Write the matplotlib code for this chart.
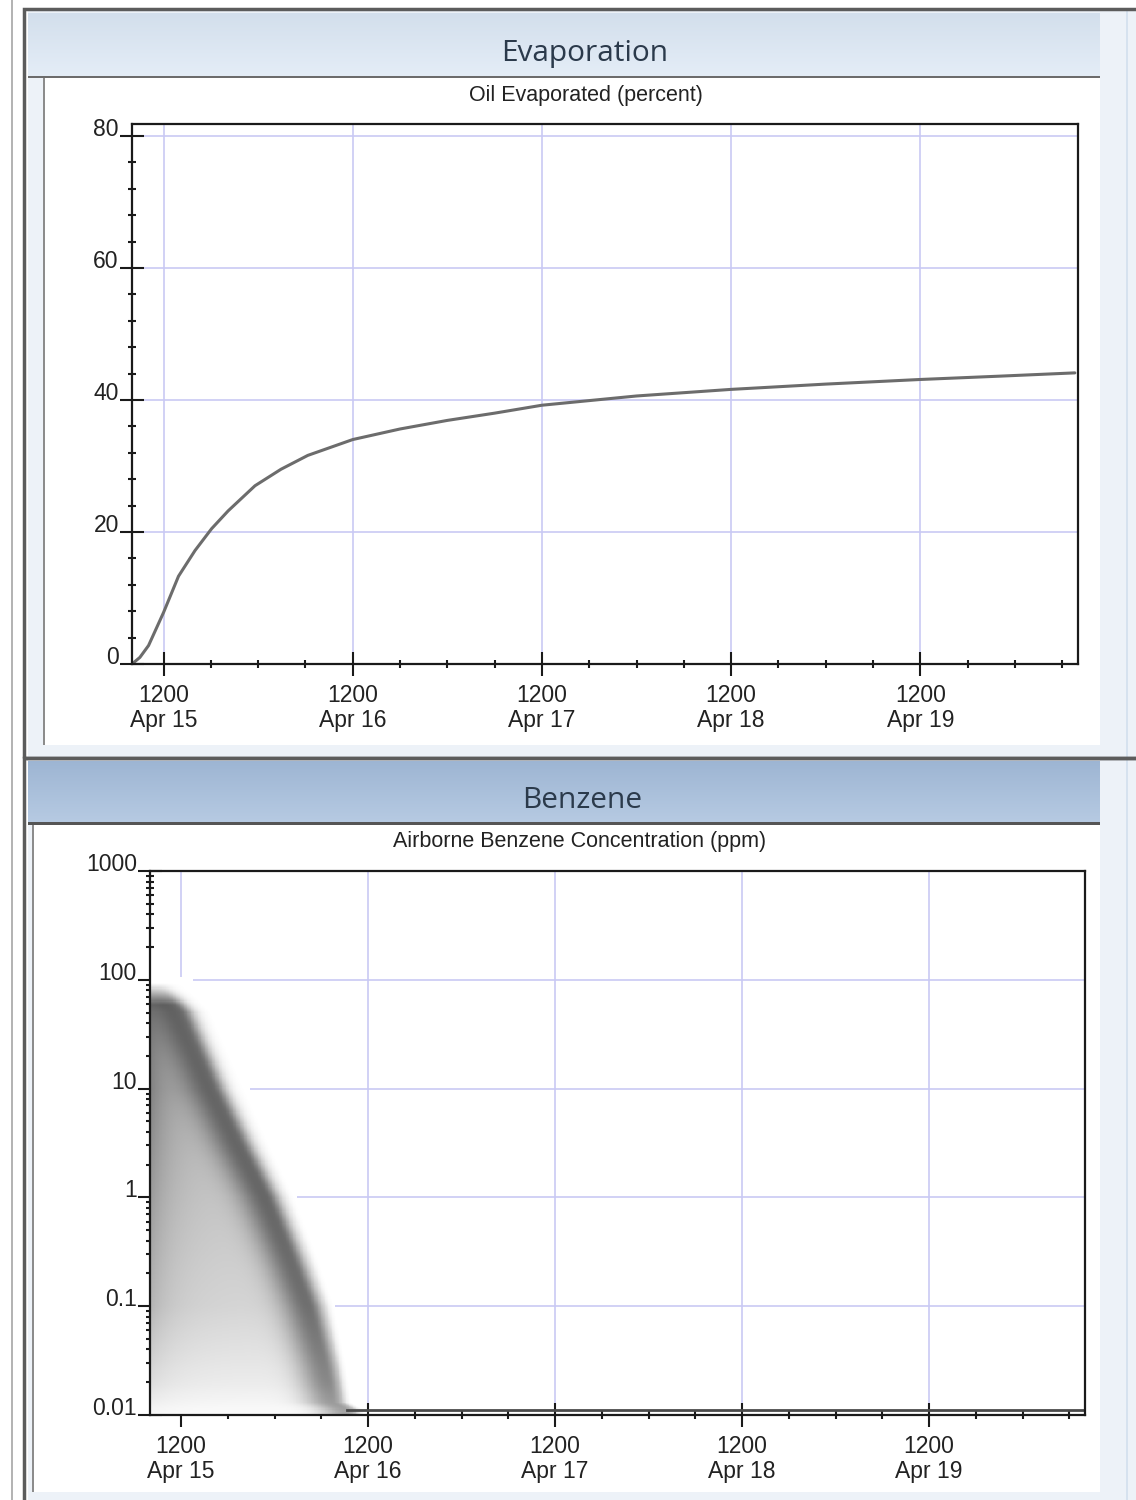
import numpy as np
import matplotlib
matplotlib.use("Agg")
import matplotlib.pyplot as plt
from matplotlib.patches import Rectangle
from matplotlib.colors import LinearSegmentedColormap
from matplotlib.ticker import FixedLocator, MultipleLocator, NullFormatter, LogLocator

# ---- data (hours after Apr 15 08:00) ----
evap_hours = [0.0, 1.0, 2.1, 4.0, 5.9, 8.0, 10.1, 12.2, 15.6, 18.9, 22.3, 28.0,
              34.0, 40.0, 46.0, 52.0, 64.0, 76.0, 88.0, 100.0, 110.0, 119.6]
evap_pct = [0.0, 1.0, 2.8, 7.8, 13.3, 17.2, 20.5, 23.2, 27.0, 29.5, 31.6, 34.0,
            35.6, 36.9, 38.0, 39.2, 40.6, 41.6, 42.4, 43.1, 43.6, 44.1]

# centre line of the shaded benzene band, then the floor it settles on
benz_hours = [1.0, 3.9, 8.1, 11.6, 15.0, 18.0, 20.5, 22.4, 23.5, 25.3, 30.0, 60.0, 90.0, 120.0]
benz_ppm = [85, 50, 10, 3, 1, 0.3, 0.1, 0.03, 0.013, 0.011, 0.011, 0.011, 0.011, 0.011]

noon_hours = [4, 28, 52, 76, 100]
day_labels = ["Apr 15", "Apr 16", "Apr 17", "Apr 18", "Apr 19"]
evap_yticks = [0, 20, 40, 60, 80]
benz_yticks = [0.01, 0.1, 1, 10, 100, 1000]
benz_ylabels = ["0.01", "0.1", "1", "10", "100", "1000"]

W, H = 1136, 1500
FONT = "Liberation Sans"
GRID = "#c9c9f4"

fig = plt.figure(figsize=(W / 100, H / 100), dpi=100)
fig.patch.set_facecolor("white")


def rect(x0, y0, x1, y1, z=-10, **kw):
    r = Rectangle((x0 / W, 1 - y1 / H), (x1 - x0) / W, (y1 - y0) / H,
                  transform=fig.transFigure, zorder=z, **kw)
    fig.add_artist(r)
    return r


def gradient(x0, y0, x1, y1, c_top, c_bot):
    ax = fig.add_axes([x0 / W, 1 - y1 / H, (x1 - x0) / W, (y1 - y0) / H])
    cmap = LinearSegmentedColormap.from_list("g", [c_top, c_bot])
    ax.imshow(np.linspace(0, 1, 64)[:, None], aspect="auto", cmap=cmap,
              extent=[0, 1, 0, 1])
    ax.set_axis_off()
    ax.set_zorder(-8)
    return ax


# ---- window chrome ----
rect(11, 0, 13, H, facecolor="#b4b4b4", edgecolor="none")
rect(28, 10, W, H, facecolor="#edf2f8", edgecolor="none")
rect(1126, 10, 1128, H, facecolor="#d6e2ef", edgecolor="none")

# top panel
gradient(28, 13, 1100, 76, "#d3dfec", "#e4edf7")
rect(28, 76, 1100, 78, z=-5, facecolor="#6c6c6c", edgecolor="none")
rect(44, 78, 1100, 745, z=-5, facecolor="white", edgecolor="none")
rect(43, 78, 45, 745, z=-5, facecolor="#8c8c8c", edgecolor="none")
rect(24, 9, W + 5, 758, z=-4, facecolor="none", edgecolor="#5c5c5c", linewidth=2.5)

# bottom panel
gradient(28, 761, 1100, 822, "#9db5d3", "#b6cae2")
rect(28, 822, 1100, 825, z=-5, facecolor="#555555", edgecolor="none")
rect(34, 825, 1100, 1492, z=-5, facecolor="white", edgecolor="none")
rect(32, 825, 34, 1492, z=-5, facecolor="#8c8c8c", edgecolor="none")
rect(24, 758, W + 5, H + 5, z=-4, facecolor="none", edgecolor="#5c5c5c", linewidth=2.5)

fig.text(585 / W, 1 - 53 / H, "Evaporation", fontsize=21.5, family="Open Sans",
         color="#2b3a4b", ha="center", va="center")
fig.text(582 / W, 1 - 800 / H, "Benzene", fontsize=21.5, family="Open Sans",
         color="#2b3a4b", ha="center", va="center")
fig.text(586 / W, 1 - 95 / H, "Oil Evaporated (percent)", fontsize=15.5,
         family=FONT, color="#222222", ha="center", va="center")
fig.text(580 / W, 1 - 841 / H, "Airborne Benzene Concentration (ppm)", fontsize=15.5,
         family=FONT, color="#222222", ha="center", va="center")


def style_axes(ax):
    ax.set_facecolor("none")
    for s in ax.spines.values():
        s.set_linewidth(1.6)
        s.set_color("#1a1a1a")
    ax.set_xlim(0, 120)
    ax.xaxis.set_major_locator(FixedLocator(noon_hours))
    ax.set_xticklabels([f"1200\n{d}" for d in day_labels])
    ax.xaxis.set_minor_locator(FixedLocator(np.arange(-2, 121, 6)))
    ax.tick_params(which="major", direction="inout", length=17, width=1.5,
                   color="#1a1a1a", labelsize=16.5, labelcolor="#222222")
    ax.tick_params(which="minor", direction="inout", length=6, width=1.5,
                   color="#1a1a1a")
    ax.tick_params(axis="x", which="major", pad=6)
    ax.tick_params(axis="y", which="major", pad=1)
    ax.grid(True, which="major", color=GRID, linewidth=1.2)
    ax.set_axisbelow(True)
    for lab in ax.get_xticklabels() + ax.get_yticklabels():
        lab.set_family(FONT)
    for lab in ax.get_xticklabels():
        lab.set_linespacing(1.1)
    for lab in ax.get_yticklabels():
        lab.set_va("baseline")


# ---- evaporation chart ----
ax1 = fig.add_axes([132 / W, 1 - 664 / H, 946 / W, 540 / H])
ax1.plot(evap_hours, evap_pct, color="#6c6c6c", linewidth=2.2,
         solid_capstyle="round", solid_joinstyle="round")
ax1.set_ylim(0, 81.8)
ax1.yaxis.set_major_locator(FixedLocator(evap_yticks))
ax1.set_yticklabels([str(v) for v in evap_yticks])
ax1.yaxis.set_minor_locator(MultipleLocator(4))
style_axes(ax1)

# ---- benzene chart ----
ax2 = fig.add_axes([150 / W, 1 - 1415 / H, 935 / W, 544 / H])
ax2.set_yscale("log")
ax2.set_ylim(0.01, 1000)
ax2.yaxis.set_major_locator(FixedLocator(benz_yticks))
ax2.set_yticklabels(benz_ylabels)
ax2.yaxis.set_minor_locator(LogLocator(base=10, subs=np.arange(2, 10)))
ax2.yaxis.set_minor_formatter(NullFormatter())

# soft grey band built around the benzene centre line
bh = np.array(benz_hours[:10])
bp = np.log10(np.array(benz_ppm[:10], dtype=float))
t_edges = np.linspace(0, 32, 321)
l_edges = np.linspace(-2, 2.03, 404)
T, L = np.meshgrid(0.5 * (t_edges[1:] + t_edges[:-1]), 0.5 * (l_edges[1:] + l_edges[:-1]))
core_t = np.interp(L, bp[::-1], bh[::-1])
d = T - core_t
peak = np.interp(L, [-2, -1.7, -1, 0, 2], [0.34, 0.44, 0.52, 0.54, 0.5])
band = np.where(d >= 0, peak * np.exp(-(d / 1.7) ** 2), peak * np.exp(-(d / 3.5) ** 2))
level = np.interp(L, [-2, -1.7, -1, 0, 1, 2], [0.03, 0.14, 0.30, 0.40, 0.50, 0.50])
interior = level * (0.55 + 0.45 * np.exp(-T / 3)) / (1 + np.exp(d / 0.8))
dark = 1 - (1 - band) * (1 - interior)
dark *= np.clip((1.97 - L) / 0.2, 0, 1)
cover = np.interp(L, [-2, -1, 0, 1, 2], [2.3, 3.3, 3.9, 4.7, 4.5])
dark *= np.clip((cover - d) / 1.2, 0, 1)
dark = np.ma.masked_where(d > cover, dark)
ax2.pcolormesh(t_edges, 10 ** l_edges, dark, cmap="gray_r", vmin=0, vmax=1,
               shading="flat", zorder=1, rasterized=True)

tail = [(h, p) for h, p in zip(benz_hours, benz_ppm) if p <= 0.0112]
ax2.plot([h for h, _ in tail], [p for _, p in tail], color="#4a4a4a", linewidth=2.0, zorder=2)
style_axes(ax2)

fig.savefig("out.png", dpi=100)
